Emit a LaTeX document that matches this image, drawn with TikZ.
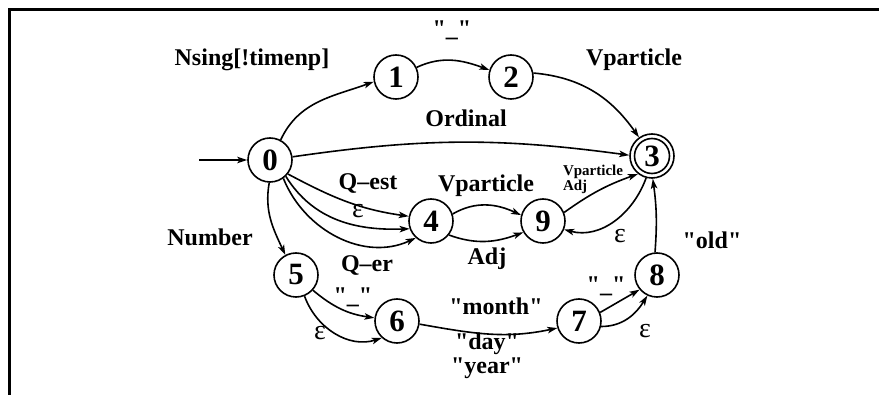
\documentclass[tikz,border=0pt]{standalone}
\usepackage{fontspec}
\newfontfamily\figfont{Liberation Serif}
\usepackage{tikz}
\usetikzlibrary{arrows.meta}
\definecolor{figline}{RGB}{0,0,0}
\tikzset{
  st/.style   ={draw=figline, circle, line width=1.6pt, minimum size=44pt, inner sep=0pt, font=\figfont\fontsize{31}{31}\selectfont\bfseries},
  lab/.style  ={font=\figfont\fontsize{24}{24}\selectfont\bfseries, inner sep=1pt},
  labs/.style ={font=\figfont\fontsize{15}{15}\selectfont\bfseries, inner sep=1pt, align=left},
  eps/.style  ={font=\figfont\fontsize{28}{28}\selectfont, inner sep=1pt},
  ptr/.style  ={draw=figline, line width=1.6pt, -{Stealth[length=10pt,width=6.5pt,inset=2.5pt]}},
  frm/.style  ={draw=figline, line width=3pt},
}
\begin{document}
\begin{tikzpicture}[x=1pt,y=1pt]
  \useasboundingbox (0,-395) rectangle (879,0);
  \draw[frm] (879,-10) -- (9,-10) -- (9,-395);
  \node[st] (s0) at (270,-160) {0};
  \node[st] (s1) at (396,-77) {1};
  \node[st] (s2) at (511,-77) {2};
  \node[st] (s3) at (652,-156) {3};
  \draw[draw=figline,line width=1.6pt] (s3.center) circle (17.5pt);
  \node[st] (s4) at (431,-221) {4};
  \node[st] (s9) at (543,-221) {9};
  \node[st] (s5) at (296,-275) {5};
  \node[st] (s6) at (397,-321) {6};
  \node[st] (s7) at (579,-321) {7};
  \node[st] (s8) at (657,-275) {8};
  \coordinate (start) at (199,-160);
  \draw[ptr] (start) -- (s0);
  \draw[ptr] (s0.62) to[out=65,in=200] (s1.192);
  \draw[ptr] (s1.25) to[out=25,in=160] (s2.162);
  \draw[ptr] (s2.10) to[out=-5,in=125] (s3.125);
  \draw[ptr] (s0.8) to[bend left=8] (s3.178);
  \draw[ptr] (s0.-38) to[out=-28,in=172] (s4.168);
  \draw[ptr] (s0.-46) to[out=-58,in=182] (s4.200);
  \draw[ptr] (s0.-54) to[out=-68,in=205] (s4.228);
  \draw[ptr] (s4.18) to[out=30,in=155] (s9.165);
  \draw[ptr] (s4.-38) to[out=-20,in=200] (s9.210);
  \draw[ptr] (s9.22) to[bend left=8] (s3.232);
  \draw[ptr] (s3.-105) to[out=250,in=-15] (s9.-22);
  \draw[ptr] (s8.95) to[bend right=6] (s3.-88);
  \draw[ptr] (s0.-92) to[out=-100,in=115] (s5.118);
  \draw[ptr] (s5.-42) to[out=-40,in=172] (s6.172);
  \draw[ptr] (s5.-68) to[out=-70,in=198] (s6.228);
  \draw[ptr] (s6.-8) to[out=-10,in=192] (s7.198);
  \draw[ptr] (s7.22) -- (s8.220);
  \draw[ptr] (s7.-14) to[out=0,in=238] (s8.245);
  \node[lab] (lnsing) at (252,-60) {Nsing[!timenp]};
  \node[lab] (ldash1) at (452,-30) {"\_"};
  \node[lab] (lvpart1) at (634,-60) {Vparticle};
  \node[lab] (lord) at (466,-118) {Ordinal};
  \node[lab] (lqest) at (368,-184) {Q–est};
  \node[eps] (leps1) at (358,-211) {ε};
  \node[lab] (lqer) at (367,-266) {Q–er};
  \node[lab] (lvpart2) at (486,-186) {Vparticle};
  \node[lab] (ladj) at (487,-259) {Adj};
  \node[labs] (lvpadj) at (593,-179) {Vparticle\\Adj};
  \node[eps] (leps2) at (620,-236) {ε};
  \node[lab] (lold) at (712,-240) {"old"};
  \node[lab] (lnum) at (210,-237) {Number};
  \node[lab] (ldash2) at (353,-297) {"\_"};
  \node[eps] (leps3) at (320,-333) {ε};
  \node[lab] (lmonth) at (496,-306) {"month"};
  \node[lab] (lday) at (487,-344) {"day"};
  \node[lab] (lyear) at (487,-368) {"year"};
  \node[lab] (ldash3) at (606,-286) {"\_"};
  \node[eps] (leps4) at (645,-331) {ε};
\end{tikzpicture}
\end{document}
